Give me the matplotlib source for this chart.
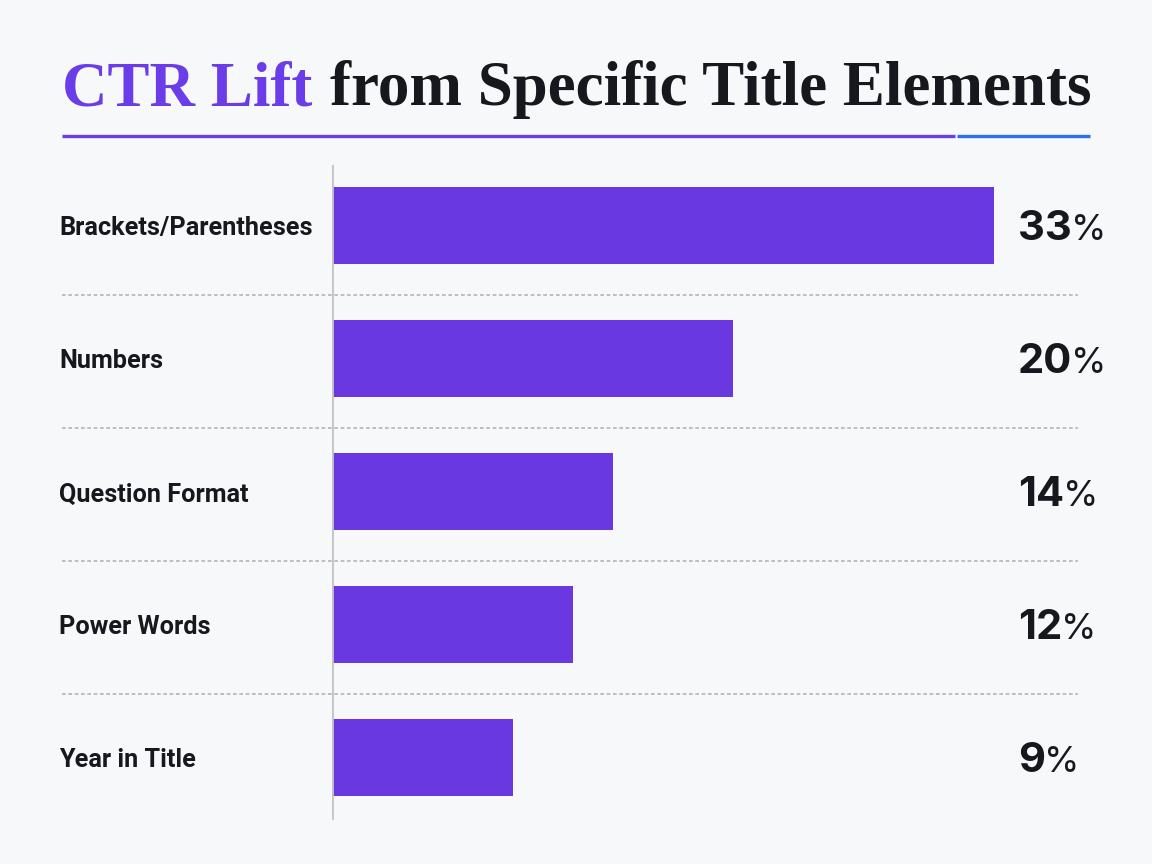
import matplotlib
matplotlib.use("Agg")
import matplotlib.pyplot as plt
from matplotlib.lines import Line2D
import matplotlib.transforms as mtransforms

# ---- data ----
categories = ["Brackets/Parentheses", "Numbers", "Question Format", "Power Words", "Year in Title"]
values = [33, 20, 14, 12, 9]
value_labels = ["33", "20", "14", "12", "9"]
title_accent = "CTR Lift"
title_rest = "from Specific Title Elements"

# ---- style ----
BG = "#f7f8fa"
PURPLE = "#6a38e0"
ACCENT = "#6a3de8"
BLUE = "#2a6ff0"
DARK = "#16181d"
GRID = "#b4b4b8"
AXIS = "#c4c4c8"
LABEL_FONT = ["Roboto", "DejaVu Sans"]
NUM_FONT = ["Inter", "Roboto", "DejaVu Sans"]
SERIF = ["Liberation Serif", "DejaVu Serif"]

W, H = 1152, 864
fig = plt.figure(figsize=(W / 100, H / 100), dpi=100, facecolor=BG)

def fx(px):
    return px / W

def fy(py):
    return 1 - py / H

# axes spans x 332..1100 px, y 165..820 px
ax_left, ax_right, ax_top, ax_bot = 332, 1100, 165, 820
ax = fig.add_axes([fx(ax_left), fy(ax_bot), fx(ax_right - ax_left), (ax_bot - ax_top) / H])
ax.set_facecolor("none")
xmax = 33 * (ax_right - ax_left) / (994 - 332)
ax.set_xlim(0, xmax)
step = 133.0
ax.set_ylim(len(categories) - 1 + (ax_bot - 757.5) / step, -(225.5 - ax_top) / step)
for s in ax.spines.values():
    s.set_visible(False)
ax.set_xticks([])
ax.set_yticks([])

ypos = list(range(len(categories)))
ax.barh(ypos, values, height=77 / step, color=PURPLE, edgecolor="none", zorder=3)

# vertical baseline
ax.axvline(0, color=AXIS, lw=2, zorder=4)

# dotted separators
blend = mtransforms.blended_transform_factory(fig.transFigure, ax.transData)
for i in range(len(categories) - 1):
    ax.add_line(Line2D([fx(62), fx(1078)], [i + 0.52, i + 0.52], transform=blend,
                       color=GRID, lw=1.2, linestyle=(0, (2.2, 1.6)), clip_on=False, zorder=2))

# category labels
lab_texts = []
for i, c in enumerate(categories):
    t = ax.text(fx(59), i + 0.075, c, transform=blend, ha="left", va="baseline",
                fontsize=20, fontweight="bold", color=DARK, family=LABEL_FONT)
    lab_texts.append(t)

# value labels
num_texts = []
for i, v in enumerate(value_labels):
    t = ax.text(fx(1018), i + 0.11, v, transform=blend, ha="left", va="baseline",
                fontsize=30, fontweight="bold", color=DARK, family=NUM_FONT)
    num_texts.append(t)

# title
t1 = fig.text(fx(62), fy(105), title_accent, ha="left", va="baseline", fontsize=57,
              fontweight="bold", color=ACCENT, family=SERIF)
t2 = fig.text(fx(62), fy(105), title_rest, ha="left", va="baseline", fontsize=57,
              fontweight="bold", color=DARK, family=SERIF)

fig.canvas.draw()
r = fig.canvas.get_renderer()

# fit the longest label to ~252 px width
wl = max(t.get_window_extent(r).width for t in lab_texts)
lsize = 20 * 252 / wl
for t in lab_texts:
    t.set_fontsize(lsize)

# fit the title into 62..1090 px
w1 = t1.get_window_extent(r).width
gap = 22
w2 = t2.get_window_extent(r).width
scale = min((1090 - 62) / (w1 + gap + w2), 1.0)
size = 57 * scale
t1.set_fontsize(size)
t2.set_fontsize(size)
fig.canvas.draw()
w1 = t1.get_window_extent(r).width
t2.set_x(fx(62 + w1 + gap * scale))

for i, t in enumerate(num_texts):
    bb = t.get_window_extent(r)
    ax.text(fx(bb.x1 - 1), i + 0.11, "%", transform=blend, ha="left", va="baseline",
            fontsize=26, color=DARK, family=NUM_FONT)

# underline
fig.add_artist(Line2D([fx(62), fx(955)], [fy(136), fy(136)], color=ACCENT, lw=2.4,
                      solid_capstyle="butt"))
fig.add_artist(Line2D([fx(957), fx(1090)], [fy(136), fy(136)], color=BLUE, lw=2.4,
                      solid_capstyle="butt"))

fig.savefig("out.png", dpi=100, facecolor=BG)
